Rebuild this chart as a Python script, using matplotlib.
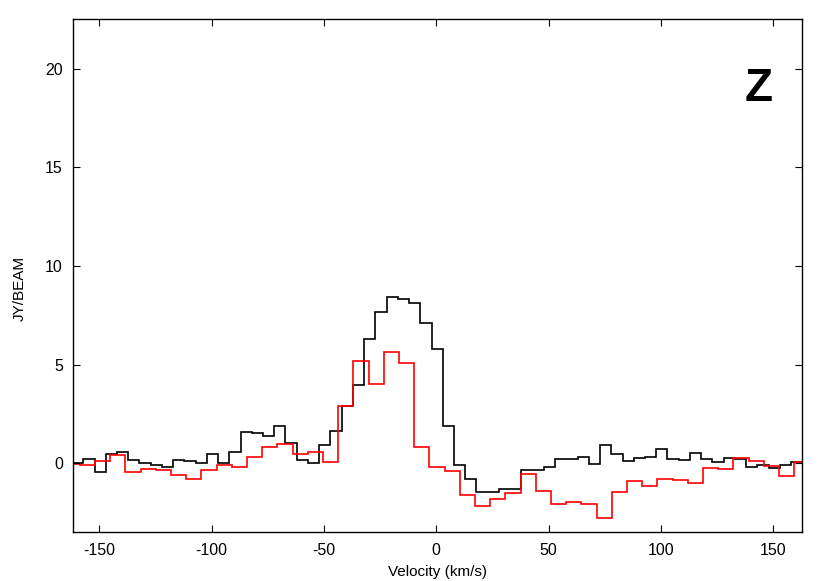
import numpy as np
import matplotlib
matplotlib.use("Agg")
import matplotlib.pyplot as plt

plt.rcParams['font.family'] = ['Liberation Sans', 'DejaVu Sans']
plt.rcParams['axes.unicode_minus'] = False

# Channel centre velocities (km/s) and flux densities (Jy/beam)
black_vel = [-159.6, -154.6, -149.6, -144.6, -139.6, -134.6, -129.6, -124.6, -119.6, -114.6,
             -109.6, -104.6, -99.6, -94.6, -89.6, -84.6, -79.6, -74.6, -69.6, -64.6,
             -59.6, -54.6, -49.6, -44.6, -39.6, -34.6, -29.6, -24.6, -19.6, -14.6,
             -9.6, -4.6, 0.4, 5.4, 10.4, 15.4, 20.4, 25.4, 30.4, 35.4,
             40.4, 45.4, 50.4, 55.4, 60.4, 65.4, 70.4, 75.4, 80.4, 85.4,
             90.4, 95.4, 100.4, 105.4, 110.4, 115.4, 120.4, 125.4, 130.4, 135.4,
             140.4, 145.4, 150.4, 155.4, 160.4]
black_flux = [0.0, 0.2, -0.42, 0.45, 0.57, 0.15, 0.03, -0.1, -0.2, 0.18,
              0.12, 0.02, 0.45, 0.03, 0.59, 1.6, 1.55, 1.38, 1.9, 1.01,
              0.17, 0.0, 0.93, 1.65, 2.9, 3.95, 6.28, 7.65, 8.44, 8.32,
              8.12, 7.12, 5.79, 1.9, -0.09, -0.81, -1.44, -1.44, -1.3, -1.3,
              -0.34, -0.34, -0.2, 0.2, 0.2, 0.33, -0.05, 0.93, 0.45, 0.12,
              0.28, 0.33, 0.71, 0.2, 0.17, 0.54, 0.22, 0.08, 0.28, 0.2,
              -0.17, -0.09, -0.25, -0.09, 0.05]

red_vel = [-162.0, -155.24, -148.47, -141.71, -134.94, -128.18, -121.42, -114.65, -107.89, -101.12,
           -94.36, -87.60, -80.83, -74.07, -67.30, -60.54, -53.78, -47.01, -40.25, -33.48,
           -26.72, -19.96, -13.19, -6.43, 0.34, 7.10, 13.86, 20.63, 27.39, 34.16,
           40.92, 47.68, 54.45, 61.21, 67.98, 74.74, 81.50, 88.27, 95.03, 101.80,
           108.56, 115.32, 122.09, 128.85, 135.62, 142.38, 149.14, 155.91, 162.67]
red_flux = [-0.04, -0.1, 0.13, 0.42, -0.46, -0.3, -0.34, -0.59, -0.81, -0.34,
            -0.1, -0.2, 0.3, 0.81, 0.98, 0.49, 0.59, 0.05, 2.9, 5.2,
            4.03, 5.65, 5.07, 0.84, -0.17, -0.37, -1.6, -2.15, -1.81, -1.52,
            -0.56, -1.39, -2.08, -1.98, -2.08, -2.79, -1.47, -0.88, -1.15, -0.78,
            -0.86, -0.98, -0.22, -0.29, 0.28, 0.12, -0.12, -0.64, 0.05]

x_ticks = [-150, -100, -50, 0, 50, 100, 150]
y_ticks = [0, 5, 10, 15, 20]
panel_label = "Z"


def edges_from_centres(c):
    c = np.asarray(c, dtype=float)
    mid = (c[:-1] + c[1:]) / 2
    first = c[0] - (mid[0] - c[0])
    last = c[-1] + (c[-1] - mid[-1])
    return np.concatenate([[first], mid, [last]])


fig = plt.figure(figsize=(8.30, 5.81), dpi=100)
ax = fig.add_axes([0.0876, 0.0838, 0.9666 - 0.0876, 0.9668 - 0.0838])

ax.stairs(black_flux, edges_from_centres(black_vel), baseline=None,
          color='black', linewidth=1.2)
ax.stairs(red_flux, edges_from_centres(red_vel), baseline=None,
          color='#ff0000', linewidth=1.2)

ax.set_xlim(-161.8, 162.9)
ax.set_ylim(-3.5, 22.5)
ax.set_xticks(x_ticks)
ax.set_yticks(y_ticks)
ax.tick_params(direction='in', length=5.3, width=0.8, top=True, right=True,
               labelsize=11.5)
ax.tick_params(axis='y', pad=7)
ax.tick_params(axis='x', pad=8)
for s in ax.spines.values():
    s.set_linewidth(1.0)

ax.set_xlabel("Velocity (km/s)", fontsize=11)
ax.xaxis.set_label_coords(0.5, -0.064)
ax.set_ylabel("JY/BEAM", fontsize=11)
ax.yaxis.set_label_coords(-0.063, 0.476)

ax.text(0.94, 0.865, panel_label, transform=ax.transAxes, fontsize=33,
        fontweight='bold', ha='center', va='center')

fig.savefig("out.png", dpi=100)
